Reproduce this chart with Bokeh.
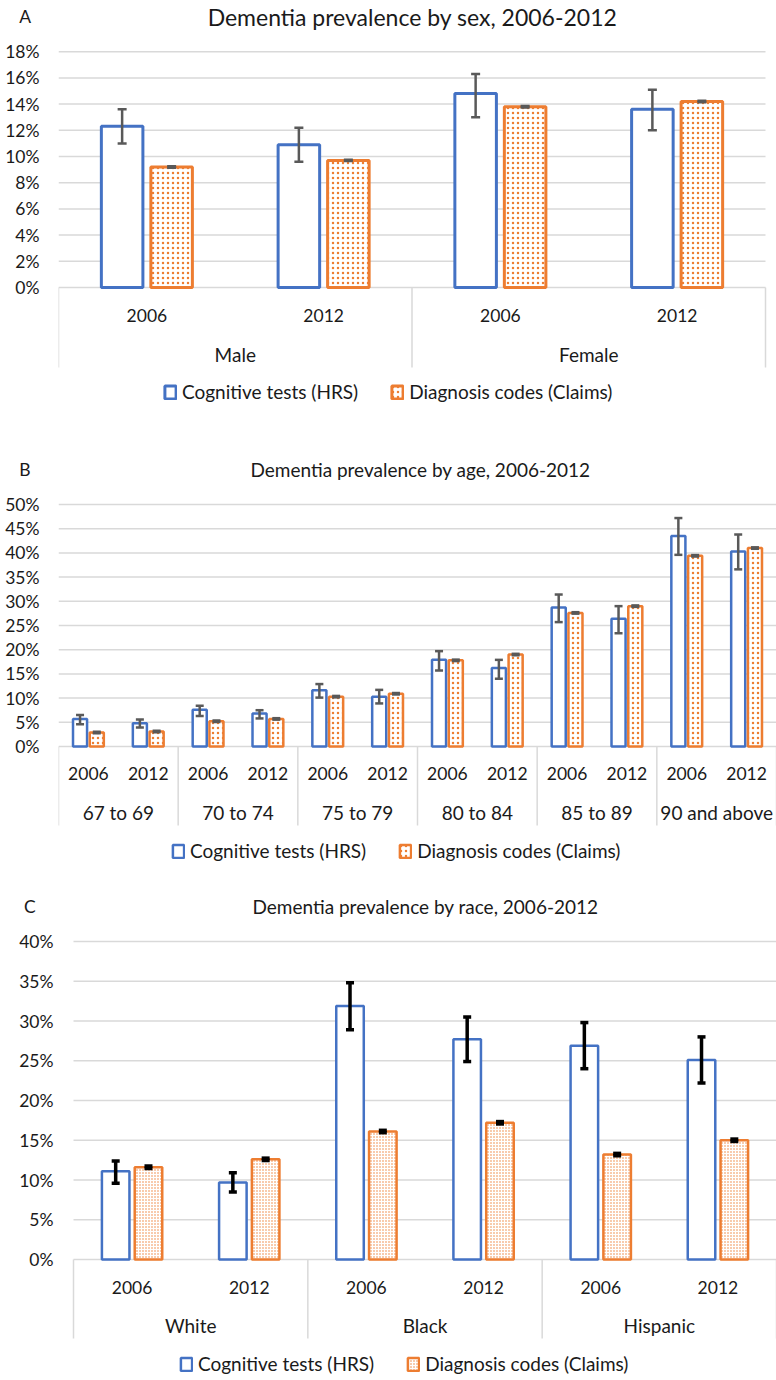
from bokeh.plotting import figure
from bokeh.models import (Range1d, FixedTicker, PrintfTickFormatter, ColumnDataSource,
                          Whisker, TeeHead, Legend, LegendItem)
from bokeh.layouts import column
from bokeh.embed import file_html
from bokeh.resources import INLINE
from bokeh.core.properties import value

FONT = "Lato"
BLUE = "#4472C4"
ORANGE = "#ED7D31"
GRID = "#D9D9D9"
TEXT = "#1A1A1A"
NBSP = "\u00a0"

years = ["2006", "2012"]
legend_labels = ["Cognitive tests (HRS)", "Diagnosis codes (Claims)"]

# ---- Panel A: by sex ----
sex_title = "Dementia prevalence by sex, 2006-2012"
sex_groups = ["Male", "Female"]
sex_hrs = [12.3, 10.9, 14.8, 13.6]
sex_hrs_lo = [11.0, 9.6, 13.0, 12.0]
sex_hrs_hi = [13.6, 12.2, 16.3, 15.1]
sex_claims = [9.2, 9.7, 13.8, 14.2]
sex_claims_lo = [9.15, 9.65, 13.75, 14.15]
sex_claims_hi = [9.25, 9.75, 13.85, 14.25]
sex_ticks = [0, 2, 4, 6, 8, 10, 12, 14, 16, 18]

# ---- Panel B: by age ----
age_title = "Dementia prevalence by age, 2006-2012"
age_groups = ["67 to 69", "70 to 74", "75 to 79", "80 to 84", "85 to 89", "90 and above"]
age_hrs = [5.7, 4.8, 7.6, 6.8, 11.6, 10.3, 17.9, 16.2, 28.7, 26.4, 43.5, 40.3]
age_hrs_lo = [4.6, 3.9, 6.3, 5.8, 10.1, 8.9, 15.7, 14.0, 25.7, 23.4, 39.6, 36.6]
age_hrs_hi = [6.5, 5.6, 8.4, 7.5, 12.9, 11.7, 19.7, 17.9, 31.4, 29.0, 47.2, 43.8]
age_claims = [2.9, 3.1, 5.2, 5.7, 10.3, 10.9, 17.8, 19.0, 27.6, 29.0, 39.4, 41.0]
age_claims_lo = [2.75, 2.95, 5.05, 5.55, 10.15, 10.75, 17.65, 18.85, 27.45, 28.85, 39.25, 40.85]
age_claims_hi = [3.05, 3.25, 5.35, 5.85, 10.45, 11.05, 17.95, 19.15, 27.75, 29.15, 39.55, 41.15]
age_ticks = [0, 5, 10, 15, 20, 25, 30, 35, 40, 45, 50]

# ---- Panel C: by race ----
race_title = "Dementia prevalence by race, 2006-2012"
race_groups = ["White", "Black", "Hispanic"]
race_hrs = [11.1, 9.7, 31.9, 27.7, 26.9, 25.1]
race_hrs_lo = [9.6, 8.5, 28.9, 24.9, 24.0, 22.2]
race_hrs_hi = [12.4, 10.9, 34.8, 30.5, 29.8, 28.0]
race_claims = [11.6, 12.6, 16.1, 17.2, 13.2, 15.0]
race_claims_lo = [11.45, 12.45, 15.95, 17.05, 13.05, 14.85]
race_claims_hi = [11.75, 12.75, 16.25, 17.35, 13.35, 15.15]
race_ticks = [0, 5, 10, 15, 20, 25, 30, 35, 40]

W = 776
LEFT = 58   # common frame left edge (frames are aligned by the column layout)


def make_panel(cfg):
    H = cfg["height"]
    x0, x1 = cfg["x0"], cfg["x1"]      # page x where the category area starts / ends
    fig_top = cfg["fig_top"]           # page y of the figure's top edge
    zero = cfg["zero"] - fig_top       # 0% line in figure px
    ppu = cfg["ppu"]
    y_end = zero / ppu
    y_start = (zero - H) / ppu
    groups = cfg["groups"]
    nslots = len(groups) * len(years)
    ppx = (x1 - x0) / nslots
    x_start = -(x0 - LEFT) / ppx
    x_end = nslots + (W - x1) / ppx

    def ydat(page_y):
        return (zero - (page_y - fig_top)) / ppu

    def xdat(page_x):
        return (page_x - x0) / ppx

    p = figure(width=W, height=H, output_backend="svg", toolbar_location=None,
               x_range=Range1d(x_start, x_end), y_range=Range1d(y_start, y_end),
               x_axis_location=None, min_border_left=LEFT, min_border_right=0,
               min_border_top=0, min_border_bottom=0)
    p.outline_line_color = None
    p.background_fill_color = "white"
    p.border_fill_color = "white"

    # y axis: percentage ticks plus the panel letter on the title row
    ticks = cfg["ticks"]
    letter_y = round(ydat(cfg["title_y"]), 2)
    p.yaxis.ticker = FixedTicker(ticks=ticks + [letter_y])
    p.yaxis.formatter = PrintfTickFormatter(format="%d%%")
    p.yaxis.major_label_overrides = {letter_y: cfg["letter"] + NBSP * cfg["letter_pad"]}
    p.yaxis.axis_line_color = None
    p.yaxis.major_tick_line_color = None
    p.yaxis.minor_tick_line_color = None
    p.yaxis.major_tick_out = 0
    p.yaxis.major_tick_in = 0
    p.yaxis.minor_tick_out = 0
    p.yaxis.minor_tick_in = 0
    p.yaxis.major_label_text_font = FONT
    p.yaxis.major_label_text_font_size = "17.5px"
    p.yaxis.major_label_text_color = TEXT
    p.yaxis.major_label_standoff = cfg["standoff"]
    p.ygrid.visible = False
    p.xgrid.visible = False

    # horizontal gridlines across the category area only
    p.segment(x0=[0] * len(ticks), y0=ticks, x1=[nslots] * len(ticks), y1=ticks,
              line_color=GRID, line_width=1.5)

    off = 0.14
    bw = 0.235
    x_hrs = [i + 0.5 - off for i in range(nslots)]
    x_cl = [i + 0.5 + off for i in range(nslots)]
    src_h = ColumnDataSource(dict(x=x_hrs, top=cfg["hrs"], lo=cfg["hrs_lo"], hi=cfg["hrs_hi"]))
    src_c = ColumnDataSource(dict(x=x_cl, top=cfg["cl"], lo=cfg["cl_lo"], hi=cfg["cl_hi"]))

    r1 = p.vbar(x="x", top="top", bottom=0, width=bw, source=src_h,
                fill_color="white", line_color=BLUE, line_width=cfg["lw"])
    r2 = p.vbar(x="x", top="top", bottom=0, width=bw, source=src_c,
                fill_color="white", line_color=ORANGE, line_width=cfg["lw"],
                hatch_pattern="dot", hatch_color=ORANGE, hatch_scale=cfg["hscale"],
                hatch_weight=cfg["hweight"])

    ec, ew, cap = cfg["ecolor"], cfg["ewidth"], cfg["cap"]
    for src in (src_h, src_c):
        w = Whisker(source=src, base="x", lower="lo", upper="hi", line_color=ec, line_width=ew,
                    upper_head=TeeHead(size=cap, line_color=ec, line_width=ew),
                    lower_head=TeeHead(size=cap, line_color=ec, line_width=ew),
                    level="annotation")
        p.add_layout(w)

    # category box separators
    sep_bottom = ydat(cfg["sep_bottom"])
    seps = [g * len(years) for g in range(len(groups) + 1)]
    p.segment(x0=seps, y0=[0] * len(seps), x1=seps, y1=[sep_bottom] * len(seps),
              line_color=GRID, line_width=1.5)

    # year labels and group labels
    slot_x = [i + 0.5 for i in range(nslots)]
    slot_lab = [years[i % len(years)] for i in range(nslots)]
    p.text(x=slot_x, y=[ydat(cfg["year_y"])] * nslots, text=slot_lab, text_font=value(FONT),
           text_font_size="17.5px", text_color=TEXT, text_align="center",
           text_baseline="middle")
    grp_x = [g * len(years) + len(years) / 2 for g in range(len(groups))]
    p.text(x=grp_x, y=[ydat(cfg["group_y"])] * len(groups), text=groups, text_font=value(FONT),
           text_font_size=cfg["gsize"], text_color=TEXT, text_align="center",
           text_baseline="middle")

    # chart title
    p.text(x=[xdat(cfg["title_x"])], y=[ydat(cfg["title_y"])], text=[cfg["title"]],
           text_font=value(FONT), text_font_size=cfg["tsize"], text_color=TEXT,
           text_align="center", text_baseline="middle")

    fb = fig_top + H
    legend = Legend(items=[LegendItem(label=legend_labels[0], renderers=[r1]),
                           LegendItem(label=legend_labels[1], renderers=[r2])],
                    orientation="horizontal",
                    location=(cfg["legend_x"] - LEFT, fb - cfg["legend_y"] - 10),
                    label_text_font=FONT, label_text_font_size="19px", label_text_color=TEXT,
                    glyph_width=14, glyph_height=16, label_standoff=5, spacing=32,
                    padding=0, margin=0, border_line_color=None, background_fill_alpha=0,
                    label_height=20)
    p.add_layout(legend, "center")
    return p


pA = make_panel(dict(height=445, fig_top=0, x0=58, x1=765, zero=287, ppu=13.1,
                     groups=sex_groups, hrs=sex_hrs, hrs_lo=sex_hrs_lo, hrs_hi=sex_hrs_hi,
                     cl=sex_claims, cl_lo=sex_claims_lo, cl_hi=sex_claims_hi, ticks=sex_ticks,
                     standoff=19, letter_pad=2, lw=3, hscale=5, hweight=1.5, ecolor="#595959",
                     ewidth=2.5, cap=9, sep_bottom=367, year_y=315, group_y=354, gsize="19px",
                     letter="A", title=sex_title, tsize="23px", title_x=412, title_y=16,
                     legend_x=163, legend_y=393))

pB = make_panel(dict(height=435, fig_top=445, x0=58, x1=776, zero=746, ppu=4.84,
                     groups=age_groups, hrs=age_hrs, hrs_lo=age_hrs_lo, hrs_hi=age_hrs_hi,
                     cl=age_claims, cl_lo=age_claims_lo, cl_hi=age_claims_hi, ticks=age_ticks,
                     standoff=19, letter_pad=2, lw=2.5, hscale=5, hweight=1.3, ecolor="#595959",
                     ewidth=2.5, cap=8, sep_bottom=825, year_y=773, group_y=812, gsize="19px",
                     letter="B", title=age_title, tsize="19px", title_x=420, title_y=469,
                     legend_x=171, legend_y=852))

pC = make_panel(dict(height=500, fig_top=880, x0=73, x1=776, zero=1259, ppu=7.95,
                     groups=race_groups, hrs=race_hrs, hrs_lo=race_hrs_lo, hrs_hi=race_hrs_hi,
                     cl=race_claims, cl_lo=race_claims_lo, cl_hi=race_claims_hi, ticks=race_ticks,
                     standoff=5, letter_pad=4, lw=2.5, hscale=3, hweight=1.0, ecolor="black",
                     ewidth=3.5, cap=8, sep_bottom=1338, year_y=1287, group_y=1325, gsize="19px",
                     letter="C", title=race_title, tsize="19px", title_x=425, title_y=906,
                     legend_x=179, legend_y=1365))

layout = column(pA, pB, pC, spacing=0)
open("out.html", "w").write(file_html(layout, INLINE))
